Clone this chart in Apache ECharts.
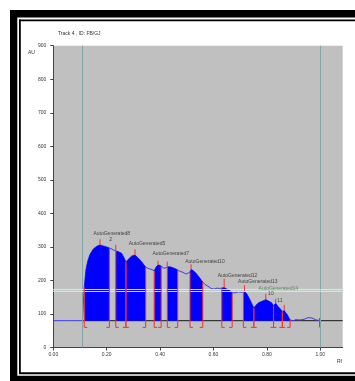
<!DOCTYPE html>
<html>
<head>
<meta charset="utf-8">
<script src="https://cdn.jsdelivr.net/npm/echarts@6/dist/echarts.min.js"></script>
<style>
  html, body { margin: 0; padding: 0; background: #fff; }
  #chart { width: 355px; height: 381px; }
</style>
</head>
<body>
<div id="chart"></div>
<script>
// densitogram trace (Rf, AU)
var rfValues = [0, 0.063, 0.109, 0.112, 0.116, 0.122, 0.129, 0.137, 0.150, 0.163,
  0.175, 0.187, 0.200, 0.210, 0.225, 0.234, 0.243, 0.256, 0.265, 0.272,
  0.281, 0.294, 0.306, 0.318, 0.331, 0.338, 0.346, 0.355, 0.362, 0.370,
  0.378, 0.385, 0.392, 0.400, 0.404, 0.415, 0.427, 0.437, 0.448, 0.460,
  0.466, 0.475, 0.486, 0.497, 0.504, 0.512, 0.516, 0.523, 0.534, 0.546,
  0.560, 0.568, 0.579, 0.591, 0.602, 0.613, 0.624, 0.631, 0.640, 0.651,
  0.662, 0.670, 0.681, 0.692, 0.703, 0.712, 0.716, 0.725, 0.737, 0.751,
  0.759, 0.770, 0.782, 0.796, 0.808, 0.817, 0.825, 0.833, 0.842, 0.849,
  0.858, 0.865, 0.875, 0.887, 0.898, 0.909, 0.924, 0.939, 0.954, 0.969,
  0.984, 0.995];
var auValues = [80, 80, 80, 82, 181, 231, 258, 277, 294, 302,
  306, 303, 300, 297, 291, 288, 286, 281, 268, 255,
  263, 273, 276, 267, 256, 248, 240, 236, 231, 232,
  229, 240, 246, 245, 240, 236, 240, 241, 238, 234,
  231, 227, 224, 219, 220, 225, 233, 231, 222, 210,
  195, 188, 183, 176, 174, 177, 176, 176, 179, 174,
  170, 163, 163, 166, 165, 166, 169, 160, 142, 118,
  126, 134, 138, 143, 138, 134, 125, 132, 122, 117,
  108, 112, 100, 82, 80, 83, 82, 84, 89, 88,
  82, 81];

// integrated peaks
var peakStart = [0.116, 0.234, 0.272, 0.378, 0.427, 0.512, 0.631, 0.712, 0.751, 0.825, 0.858];
var peakEnd   = [0.210, 0.272, 0.346, 0.404, 0.466, 0.560, 0.670, 0.751, 0.825, 0.858, 0.887];
var apexRf    = [0.175, 0.234, 0.306, 0.392, 0.427, 0.516, 0.640, 0.716, 0.796, 0.833, 0.865];
var apexTop   = [323, 306, 293, 258, 256, 248, 205, 186, 160, 145, 127];

// peak names
var labelText = ['AutoGenerated8', '2', 'AutoGenerated5', 'AutoGenerated7', 'AutoGenerated10',
  'AutoGenerated12', 'AutoGenerated13', 'AutoGenerated14', '10', '11'];
var labelRf = [0.219, 0.215, 0.351, 0.440, 0.568, 0.690, 0.766, 0.843, 0.815, 0.849];
var labelAu = [341, 323, 309, 279, 255, 214, 196, 175, 162, 139];

var xTicks = [0, 0.2, 0.4, 0.6, 0.8, 1.0];
var baselineAu = 80;
var originRf = 0.109;
var frontRf = 0.998;
var bandAu = [169, 175];
var xMax = 1.084;
var footAu = 60;

var font = 'Liberation Sans, Arial, sans-serif';
var red = '#ff2b2b';

function auAt(rf) {
  return auValues[rfValues.indexOf(rf)];
}

var curve = rfValues.map(function (r, i) { return [r, auValues[i]]; });

// filled area under each peak, from baseline up to trace
function renderPeak(params, api) {
  var s = api.value(0), e = api.value(1);
  var pts = [api.coord([s, baselineAu])];
  for (var i = 0; i < rfValues.length; i++) {
    if (rfValues[i] >= s && rfValues[i] <= e) pts.push(api.coord([rfValues[i], auValues[i]]));
  }
  pts.push(api.coord([e, baselineAu]));
  return { type: 'polygon', shape: { points: pts }, style: { fill: '#0000ff' } };
}

// red peak borders with the little foot
function renderEdge(params, api) {
  var top = api.coord([api.value(0), api.value(1)]);
  var foot = api.coord([api.value(0), footAu]);
  var d = api.value(2) * 3;
  return {
    type: 'group', children: [
      { type: 'line', shape: { x1: top[0], y1: top[1], x2: foot[0], y2: foot[1] }, style: { stroke: red, lineWidth: 1 } },
      { type: 'line', shape: { x1: foot[0], y1: foot[1], x2: foot[0] + d, y2: foot[1] }, style: { stroke: red, lineWidth: 1 } }
    ]
  };
}

function renderApex(params, api) {
  var a = api.coord([api.value(0), api.value(1)]);
  var b = api.coord([api.value(0), api.value(2)]);
  return { type: 'line', shape: { x1: a[0], y1: a[1], x2: b[0], y2: b[1] }, style: { stroke: red, lineWidth: 1 } };
}

var edges = [];
peakStart.forEach(function (s, i) {
  edges.push([s, auAt(s), 1]);
  edges.push([peakEnd[i], auAt(peakEnd[i]), -1]);
});

var labels = labelText.map(function (t, i) {
  var item = { name: t, value: [labelRf[i], labelAu[i]] };
  if (t === 'AutoGenerated14') item.label = { color: '#3d7a35' };
  return item;
});

var chart = echarts.init(document.getElementById('chart'));
var option = {
  animation: false,
  backgroundColor: '#fff',
  title: {
    text: 'Track 4 , ID: FB/GJ', left: 53, top: 26,
    textStyle: { fontSize: 5, fontWeight: 'normal', color: '#333', fontFamily: font }
  },
  grid: { left: 53.3, right: 12.3, top: 45.7, bottom: 33.5, show: true, backgroundColor: '#c0c0c0', borderWidth: 0 },
  xAxis: {
    type: 'value', min: 0, max: xMax, interval: 0.2,
    axisLine: { lineStyle: { color: '#444' } },
    axisTick: { length: 3, lineStyle: { color: '#444' }, customValues: xTicks },
    axisLabel: {
      customValues: xTicks, fontSize: 5, color: '#333', margin: 5, fontFamily: font,
      formatter: function (v) { return v.toFixed(2); }
    },
    splitLine: { show: false }
  },
  yAxis: {
    type: 'value', min: 0, max: 900, interval: 100,
    axisLine: { show: true, lineStyle: { color: '#444' } },
    axisTick: { show: true, length: 3, lineStyle: { color: '#444' } },
    axisLabel: { fontSize: 5, color: '#333', margin: 7, fontFamily: font },
    splitLine: { show: false }
  },
  graphic: [
    { type: 'rect', shape: { x: 10, y: 10, width: 345, height: 7.5 }, style: { fill: '#000' }, z: 100 },
    { type: 'rect', shape: { x: 19, y: 19.5, width: 336, height: 1.7 }, style: { fill: '#000' }, z: 100 },
    { type: 'rect', shape: { x: 10, y: 10, width: 7.3, height: 371 }, style: { fill: '#000' }, z: 100 },
    { type: 'rect', shape: { x: 19, y: 19.5, width: 1.8, height: 354.5 }, style: { fill: '#000' }, z: 100 },
    { type: 'rect', shape: { x: 19, y: 372.3, width: 336, height: 2 }, style: { fill: '#000' }, z: 100 },
    { type: 'rect', shape: { x: 10, y: 375.7, width: 345, height: 5.3 }, style: { fill: '#000' }, z: 100 },
    { type: 'text', x: 28, y: 53, style: { text: 'AU', fontSize: 5, fill: '#333', fontFamily: font, verticalAlign: 'middle' } },
    { type: 'text', x: 337, y: 362, style: { text: 'Rf', fontSize: 5, fill: '#333', fontFamily: font, verticalAlign: 'middle' } }
  ],
  series: [
    {
      type: 'line', data: [[originRf, baselineAu], [xMax, baselineAu]], symbol: 'none', silent: true, z: 2,
      lineStyle: { color: '#1a1a1a', width: 1 },
      markLine: {
        silent: true, symbol: 'none', label: { show: false },
        data: [
          { xAxis: originRf, lineStyle: { color: '#7fa5a5', width: 1, type: 'solid' } },
          { xAxis: frontRf, lineStyle: { color: '#7fa5a5', width: 1, type: 'solid' } },
          [{ coord: [frontRf, 88], lineStyle: { color: red, width: 1, type: 'solid' } }, { coord: [frontRf, footAu] }]
        ]
      }
    },
    {
      type: 'line', data: curve, symbol: 'none', silent: true, z: 3,
      lineStyle: { color: '#3c3ce6', width: 1 }
    },
    {
      type: 'custom', coordinateSystem: 'cartesian2d', silent: true, z: 4,
      data: peakStart.map(function (s, i) { return [s, peakEnd[i]]; }),
      renderItem: renderPeak
    },
    {
      type: 'line', data: [], silent: true, z: 5,
      markLine: {
        silent: true, symbol: 'none', label: { show: false },
        lineStyle: { color: 'rgba(200,248,180,0.95)', width: 1, type: 'solid' },
        data: [{ yAxis: bandAu[0] }, { yAxis: bandAu[1] }]
      },
      markArea: {
        silent: true, itemStyle: { color: 'rgba(185,230,205,0.45)' },
        data: [[{ yAxis: bandAu[0] }, { yAxis: bandAu[1] }]]
      }
    },
    {
      type: 'custom', coordinateSystem: 'cartesian2d', silent: true, z: 6,
      data: edges, encode: { x: 0, y: 1 }, renderItem: renderEdge
    },
    {
      type: 'custom', coordinateSystem: 'cartesian2d', silent: true, z: 6,
      data: apexRf.map(function (r, i) { return [r, auAt(r), apexTop[i]]; }),
      encode: { x: 0, y: 1 }, renderItem: renderApex
    },
    {
      type: 'scatter', data: labels, symbolSize: 0, silent: true, z: 7,
      label: { show: true, position: 'inside', formatter: '{b}', fontSize: 5, color: '#222', fontFamily: font }
    }
  ]
};
chart.setOption(option);
</script>
</body>
</html>
